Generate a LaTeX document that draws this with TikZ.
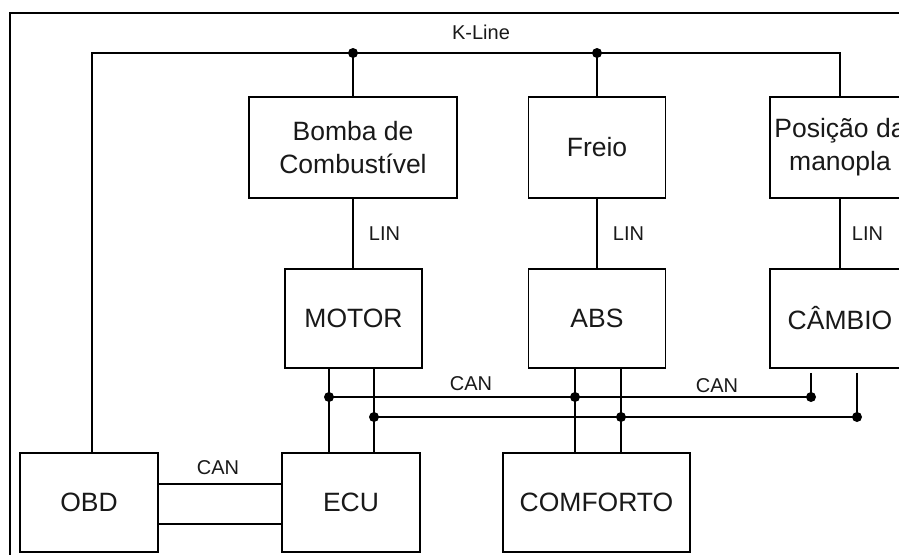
\documentclass[tikz,border=0pt]{standalone}
\usepackage{fontspec}
\setmainfont{Liberation Sans}
\begin{document}
\begin{tikzpicture}[x=1pt,y=-1pt,
  box/.style={draw, line width=1.9pt, inner sep=0pt, align=center, fill=white,
    font=\fontsize{26.5}{33}\selectfont, text=black!90},
  wire/.style={line width=1.8pt},
  lbl/.style={font=\fontsize{20}{24}\selectfont, inner sep=0pt, text=black!90},
  junc/.style={circle, fill, inner sep=0pt, minimum size=10pt}]
\useasboundingbox (0,0) rectangle (899,554);
\begin{scope}
\clip (0,0) rectangle (899,554);
\fill[white] (0,0) rectangle (899,554);
% frame
\draw[line width=2pt] (10,600) -- (10,13) -- (920,13);

% boxes
\node[box, minimum width=208pt, minimum height=101pt] (bomba) at (353,147.5) {Bomba de\\Combustível};
\node[box, minimum width=137pt, minimum height=101pt] (freio) at (597,147.5) {Freio};
\node[box, minimum width=140pt, minimum height=101pt] (pos) at (840,147.5) {Posição da\\manopla};
\node[box, minimum width=137pt, minimum height=99pt] (motor) at (353.5,318.5) {MOTOR};
\node[box, minimum width=137pt, minimum height=99pt] (abs) at (597,318.5) {ABS};
\node[box, minimum width=140pt, minimum height=99pt] (cambio) at (840,318.5) {CÂMBIO};
\node[box, minimum width=138pt, minimum height=99pt] (obd) at (89,502.5) {OBD};
\node[box, minimum width=138pt, minimum height=99pt] (ecu) at (351,502.5) {ECU};
\node[box, minimum width=187pt, minimum height=99pt] (comf) at (596.5,502.5) {COMFORTO};

% K-Line
\coordinate (k1) at (92,53);
\coordinate (k2) at (353,53);
\coordinate (k3) at (597,53);
\coordinate (k4) at (840,53);
\draw[wire] (obd.north -| k1) -- (k1) -- (k4) -- (pos.north -| k4);
\draw[wire] (k2) -- (bomba.north -| k2);
\draw[wire] (k3) -- (freio.north -| k3);
\node[junc] (j1) at (k2) {};
\node[junc] (j2) at (k3) {};
\node[lbl] (klbl) at (481,32) {K-Line};

% LIN
\draw[wire] (bomba.south -| k2) -- (motor.north -| k2) node[lbl, midway, right=15pt] (lin1) {LIN};
\draw[wire] (freio.south -| k3) -- (abs.north -| k3) node[lbl, midway, right=15pt] (lin2) {LIN};
\draw[wire] (pos.south -| k4) -- (cambio.north -| k4) node[lbl, midway, right=11pt] (lin3) {LIN};

% CAN buses
\coordinate (c1a) at (329,397);
\coordinate (c1b) at (575,397);
\coordinate (c1c) at (811,397);
\coordinate (c2a) at (374,417);
\coordinate (c2b) at (621,417);
\coordinate (c2c) at (857,417);
\draw[wire] (motor.south -| c1a) -- (ecu.north -| c1a);
\draw[wire] (motor.south -| c2a) -- (ecu.north -| c2a);
\draw[wire] (abs.south -| c1b) -- (comf.north -| c1b);
\draw[wire] (abs.south -| c2b) -- (comf.north -| c2b);
\draw[wire, shorten <=4pt] (cambio.south -| c1c) -- (c1c);
\draw[wire, shorten <=4pt] (cambio.south -| c2c) -- (c2c);
\draw[wire] (c1a) -- (c1c);
\draw[wire] (c2a) -- (c2c);
\foreach \c in {c1a,c1b,c1c,c2a,c2b,c2c} \node[junc] at (\c) {};
\node[lbl] (can1) at (471,384) {CAN};
\node[lbl] (can2) at (717,386) {CAN};

% OBD - ECU
\draw[wire] (obd.east |- 0,484) -- (ecu.west |- 0,484);
\draw[wire] (obd.east |- 0,524) -- (ecu.west |- 0,524);
\node[lbl] (can3) at (218,468) {CAN};
\end{scope}
\end{tikzpicture}
\end{document}
